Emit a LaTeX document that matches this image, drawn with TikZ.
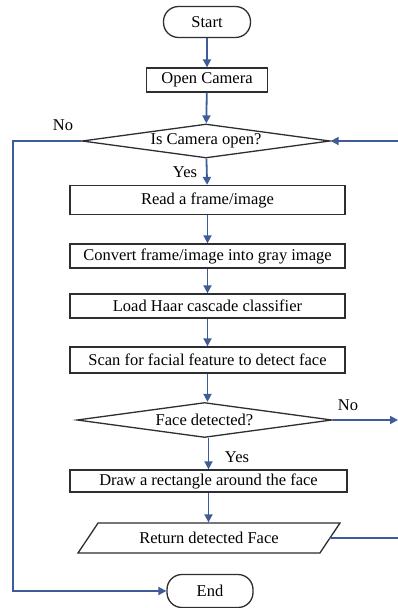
\documentclass[tikz,border=0pt]{standalone}
\usepackage{fontspec}
\setmainfont{Liberation Serif}
\usetikzlibrary{shapes.geometric,arrows.meta}
\definecolor{flow}{RGB}{62,92,152}
\definecolor{edge}{RGB}{45,45,50}
\tikzset{
  base/.style={draw=edge, line width=1.3pt, inner sep=0pt, font=\fontsize{16.5}{19}\selectfont},
  term/.style={base, rounded corners=15pt},
  proc/.style={base, minimum width=275pt},
  dec/.style={base, diamond, aspect=7.3},
  io/.style={base, trapezium, trapezium left angle=30, trapezium right angle=150, trapezium stretches body},
  flowline/.style={draw=flow, line width=1.8pt},
  arr/.style={flowline, -{Triangle[length=8pt,width=8pt]}},
  lbl/.style={font=\fontsize{16.5}{19}\selectfont, inner sep=0pt}
}
\begin{document}
\begin{tikzpicture}[x=1pt,y=-1pt]
\useasboundingbox (0,0) rectangle (398,608);
\node[term, minimum width=87pt, minimum height=31pt] (start) at (207,22) {Start};
\node[base, minimum width=121pt, minimum height=24pt] (open) at (207,80) {Open Camera};
\node[dec, minimum width=248pt, minimum height=34pt] (cam) at (206,141) {Is Camera open?};
\node[proc, minimum height=29pt] (read) at (207.5,200) {Read a frame/image};
\node[proc, minimum height=24pt] (conv) at (207.5,256) {Convert frame/image into gray image};
\node[proc, minimum height=24pt] (load) at (207.5,306) {Load Haar cascade classifier};
\node[proc, minimum height=26pt] (scan) at (207.5,360) {Scan for facial feature to detect face};
\node[dec, minimum width=255pt, minimum height=35pt] (face) at (204.5,420) {Face detected?};
\node[proc, minimum width=277pt, minimum height=22pt] (rect) at (208.5,481) {Draw a rectangle around the face};
\node[io, minimum width=262pt, minimum height=30pt] (ret) at (209,538) {Return detected Face};
\node[term, minimum width=86pt, minimum height=33pt] (end) at (210,591) {End};
\node[lbl] (no1) at (63,125) {No};
\node[lbl] (yes1) at (185,172) {Yes};
\node[lbl] (no2) at (348,405) {No};
\node[lbl] (yes2) at (237,457) {Yes};
\coordinate (lx) at (13,141);
\coordinate (rtop) at (398,141);
\coordinate (rmid) at (398,420);
\coordinate (rbot) at (398,538);
\draw[arr] (start) -- (open);
\draw[arr] (open) -- (cam);
\draw[arr] (cam) -- (read);
\draw[arr] (read) -- (conv);
\draw[arr] (conv) -- (load);
\draw[arr] (load) -- (scan);
\draw[arr] (scan.south) -- (scan.south |- face.north);
\draw[arr] (face.south -| rect.north) -- (rect.north);
\draw[arr] (rect.south) -- (rect.south |- ret.north);
\draw[arr] (cam.west) -- (lx) |- (end.west);
\draw[arr] (rtop) -- (cam.east);
\draw[arr] (face.east) -- (rmid);
\draw[flowline] (ret.east) -- (rbot);
\end{tikzpicture}
\end{document}
